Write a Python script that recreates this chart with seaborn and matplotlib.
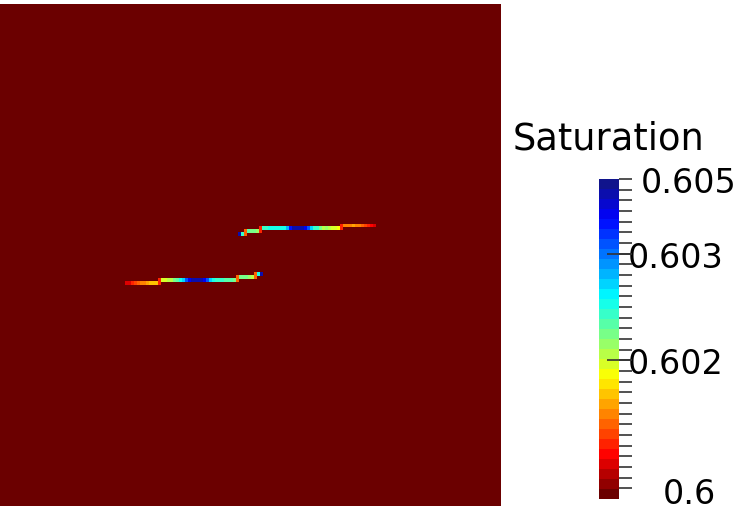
import numpy as np
import pandas as pd
import seaborn as sns
import matplotlib.pyplot as plt
from matplotlib.colors import LinearSegmentedColormap
from matplotlib.ticker import FixedLocator

# colour range of the Saturation bar
s_min, s_max = 0.6, 0.605
s_matrix = 0.6          # matrix block saturation (background)
n_cells = 167           # mesh cells per side

# fracture cells: row height (mesh units), x of first cell, saturation per cell
# upper fracture
up_a_y, up_a_x0 = 90.5, 79.83
up_a_s = [0.6047, 0.6029, 0.6012]
up_b_y, up_b_x0 = 91.5, 81.83
up_b_s = [0.6012, 0.6027, 0.6025, 0.6025, 0.6024, 0.6009]
up_c_y, up_c_x0 = 92.5, 86.83
up_c_s = [0.6009, 0.6029, 0.6029, 0.6030, 0.6030, 0.6030, 0.6031, 0.6031, 0.6030,
          0.6035, 0.6043, 0.6047, 0.6048, 0.6048, 0.6047, 0.6044, 0.6040, 0.6033,
          0.6029, 0.6029, 0.6026, 0.6023, 0.6024, 0.6022, 0.6021, 0.6021, 0.6019, 0.6008]
up_d_y, up_d_x0 = 93.33, 113.83
up_d_s = [0.6008, 0.6013, 0.6014, 0.6013, 0.6015, 0.6014, 0.6013, 0.6012, 0.6010,
          0.6008, 0.6007, 0.6006]
# lower fracture
lo_e_y, lo_e_x0 = 74.17, 42.17
lo_e_s = [0.6005, 0.6006, 0.6009, 0.6010, 0.6012, 0.6013, 0.6014, 0.6015, 0.6016,
          0.6016, 0.6017, 0.6008]
lo_f_y, lo_f_x0 = 75.17, 53.17
lo_f_s = [0.6008, 0.6021, 0.6021, 0.6022, 0.6022, 0.6025, 0.6027, 0.6030, 0.6033,
          0.6040, 0.6045, 0.6047, 0.6048, 0.6048, 0.6047, 0.6045, 0.6040, 0.6033,
          0.6030, 0.6029, 0.6029, 0.6029, 0.6028, 0.6028, 0.6027, 0.6025, 0.6011]
lo_g_y, lo_g_x0 = 76.17, 79.17
lo_g_s = [0.6011, 0.6025, 0.6025, 0.6025, 0.6024, 0.6023, 0.6012]
lo_h_y, lo_h_x0 = 77.17, 85.17
lo_h_s = [0.6012, 0.6031, 0.6047]

# colour bar labels
bar_title = "Saturation"
major_vals = [0.60383, 0.60217]
major_labels = ["0.603", "0.602"]
range_labels = ["0.605", "0.6"]
n_minor = 30

#%%

rows = [(up_a_y, up_a_x0, up_a_s), (up_b_y, up_b_x0, up_b_s),
        (up_c_y, up_c_x0, up_c_s), (up_d_y, up_d_x0, up_d_s),
        (lo_e_y, lo_e_x0, lo_e_s), (lo_f_y, lo_f_x0, lo_f_s),
        (lo_g_y, lo_g_x0, lo_g_s), (lo_h_y, lo_h_x0, lo_h_s)]
parts = []
for y, x0, vals in rows:
    parts.append(pd.DataFrame({"x": x0 + np.arange(len(vals)), "y": y, "S": vals}))
dff = pd.concat(parts, ignore_index=True)

# inverted jet, banded like the paraview lookup table
jet_nodes = [(0.0, "#6b0000"), (0.127, "#ff0000"), (0.381, "#ffff00"),
             (0.508, "#80ff80"), (0.635, "#00ffff"), (0.889, "#0000ff"),
             (1.0, "#10148c")]
cmap = LinearSegmentedColormap.from_list("jet_pv", jet_nodes).resampled(32)

#%%

fig = plt.figure(figsize=(7.44, 5.10), dpi=100)
ax = fig.add_axes([0, 3 / 510, 501 / 744, 502 / 510])
cax = fig.add_axes([599 / 744, 10 / 510, 20 / 744, 320 / 510])

field = np.full((n_cells, n_cells), s_matrix)
sns.heatmap(field, ax=ax, cmap=cmap, vmin=s_min, vmax=s_max,
            cbar_ax=cax, xticklabels=False, yticklabels=False, rasterized=True)
ax.set_ylim(0, n_cells)
ax.set_xlim(0, n_cells)

sns.scatterplot(data=dff, x="x", y="y", hue="S", palette=cmap,
                hue_norm=(s_min, s_max), marker="s", s=(3.2 * 0.72) ** 2,
                linewidth=0, legend=False, ax=ax)
ax.set_xlabel("")
ax.set_ylabel("")
ax.set_axis_off()

cbar = ax.collections[0].colorbar
cbar.outline.set_visible(False)
cbar.set_ticks(major_vals, labels=major_labels)
minor_vals = np.linspace(s_min, s_max, n_minor + 1)[1:]
cax.yaxis.set_minor_locator(FixedLocator(minor_vals))
cax.tick_params(which="major", direction="inout", length=18, width=1.2,
                color="#333333", pad=-3, labelsize=24)
cax.tick_params(which="minor", direction="out", length=9, width=1.2,
                color="#333333")

cax.text(4.5, 0.99, range_labels[0], transform=cax.transAxes, fontsize=24,
         ha="center", va="center")
cax.text(4.5, 0.016, range_labels[1], transform=cax.transAxes, fontsize=24,
         ha="center", va="center")
fig.text(513 / 744, (510 - 150) / 510, bar_title, fontsize=26.5,
         ha="left", va="baseline")

fig.savefig("out.png", dpi=100)
